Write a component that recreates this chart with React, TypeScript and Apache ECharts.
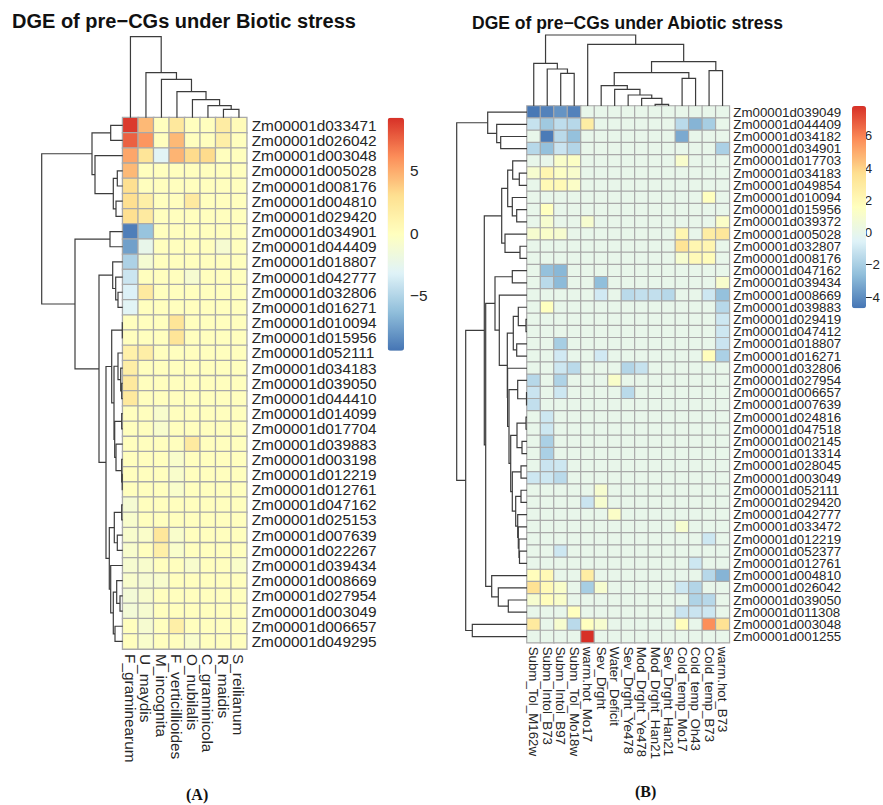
import React, { useEffect, useRef } from "react";
import * as echarts from "echarts";

const PALETTE = ["#4575B4", "#91BFDB", "#E0F3F8", "#FFFFBF", "#FEE090", "#FC8D59", "#D73027"];

// Panel A
const rowsA = ["Zm00001d033471","Zm00001d026042","Zm00001d003048","Zm00001d005028","Zm00001d008176","Zm00001d004810","Zm00001d029420","Zm00001d034901","Zm00001d044409","Zm00001d018807","Zm00001d042777","Zm00001d032806","Zm00001d016271","Zm00001d010094","Zm00001d015956","Zm00001d052111","Zm00001d034183","Zm00001d039050","Zm00001d044410","Zm00001d014099","Zm00001d017704","Zm00001d039883","Zm00001d003198","Zm00001d012219","Zm00001d012761","Zm00001d047162","Zm00001d025153","Zm00001d007639","Zm00001d022267","Zm00001d039434","Zm00001d008669","Zm00001d027954","Zm00001d003049","Zm00001d006657","Zm00001d049295"];
const colsA = ["F_graminearum","U_maydis","M_incognita","F_verticillioides","O_nubilalis","C_graminicola","R_maidis","S_reilianum"];
const valuesA = [
  [8.9,4.5,0,2.2,0,0,1.8,0.3],
  [7.6,5.8,0,4.5,0,0,1.5,0],
  [5.2,2.5,-3,4.7,3.2,3.2,0,0],
  [4.5,0,0,0,0,0,0,0],
  [3,0,0,0,0,0,0,0],
  [3,1.5,0,0,2,0,0,0],
  [3,2,0,0,0,0,0,0],
  [-9,-6,0,0,0,0,0,0],
  [-7.6,-2.4,0,0,0,0,-1,0],
  [-5.2,-1.1,0,0,0,0,0,0],
  [-4,0,0,0,-1,0,0,0],
  [-3.3,2,0,0,0,0,0,0],
  [-3,0,0,0,0,0,0,0],
  [0,0,0,2.5,0,0,0,0],
  [0,0,0,2.5,0,0,0,0],
  [1.3,1.6,0,0,0,0,0,0],
  [1.6,0,0,0,0,0,0,0],
  [2.1,0,0,0,0,0,0,0],
  [2.1,0,0,0,0,0,0,0],
  [0,0,-0.8,0,0,0,0,0],
  [0,0,-0.8,0,0,0,0,0],
  [0,0,0,0,2,0,0,0],
  [0,0,0,-0.7,0,0,0,0],
  [0,0,0,-0.7,0,0,0,0],
  [0,0,0,-0.7,0,0,0,0],
  [-1.1,0,0,0,0,0,0,0],
  [-0.8,0,0,0,0,0,0,0],
  [-0.8,-0.6,2.3,-0.7,0,0,0,0],
  [-0.8,0,1.5,-0.7,0,0,0,0],
  [-1,-0.8,0,0,-0.8,0,0,-0.6],
  [-0.8,-1,-0.8,0,0,0,0,0],
  [-1.3,-0.8,0,0,0,0,0,0],
  [-1.3,-1,0,0,0,0,0,0],
  [0,-1,0,1.5,0,0,0,0],
  [0,-0.7,0,0,-0.7,0,0,0],
];
const rangeA = [-9.39, 9.25];
const ticksA = [-5, 0, 5];

type Tree = number | [number, Tree, Tree];
const rowTreeA: Tree = [81,
  [30.7, [12, 0, 1], [27.7, 2, [9.4, [5.4, 3, 4], [6.7, 5, 6]]]],
  [47.7, [12.7, 7, 8],
    [23.7, [10, 9, [7, 10, [4.7, 11, 12]]],
      [16.7,
        [11, [0.4, 13, 14],
          [8.7, [4.7, 15, [2, 16, [1, 17, 18]]],
            [8, [1, 19, 20], [6.7, 21, [1, 22, [0.5, 23, 24]]]]]],
        [13.4, [8.4, [1, 25, 26], [5.4, 27, 28]],
          [12, 29, [9.4, [6, 30, [2.7, 31, 32]], [7.7, 33, 34]]]]]]]];
const colTreeA: Tree = [81, 0, [45, 1, [38.4, 2, [26, 3, [18, 4, [12, 5, [8.4, 6, 7]]]]]]];

// Panel B
const rowsB = ["Zm00001d039049","Zm00001d044409","Zm00001d034182","Zm00001d034901","Zm00001d017703","Zm00001d034183","Zm00001d049854","Zm00001d010094","Zm00001d015956","Zm00001d039372","Zm00001d005028","Zm00001d032807","Zm00001d008176","Zm00001d047162","Zm00001d039434","Zm00001d008669","Zm00001d039883","Zm00001d029419","Zm00001d047412","Zm00001d018807","Zm00001d016271","Zm00001d032806","Zm00001d027954","Zm00001d006657","Zm00001d007639","Zm00001d024816","Zm00001d047518","Zm00001d002145","Zm00001d013314","Zm00001d028045","Zm00001d003049","Zm00001d052111","Zm00001d029420","Zm00001d042777","Zm00001d033472","Zm00001d012219","Zm00001d052377","Zm00001d012761","Zm00001d004810","Zm00001d026042","Zm00001d039050","Zm00001d011308","Zm00001d003048","Zm00001d001255"];
const colsB = ["Subm_Tol_M162w","Subm_Intol_B73","Subm_Intol_B97","Subm_Tol_Mo18w","warm.hot_Mo17","Sev_Drght","Water_Deficit","Sev_Drght_Ye478","Mod_Drght_Ye478","Mod_Drght_Han21","Sev_Drght_Han21","Cold_temp_Mo17","Cold_temp_Oh43","Cold_temp_B73","warm.hot_B73"];
const valuesB = [
  [-4.6,-4.3,-3.8,-4.3,0,0,0,0,0,0,0,0,0,0,0],
  [-1.2,-2.2,-1.4,-1.6,2.8,0,0,0,0,0,0,-1.5,-2.9,-2,0],
  [0,-4.5,-1.5,-2.5,0,0,0,0,0,0,0,-3.2,0,0,0],
  [-1.6,-2.5,-1.1,-1.7,0,0,0,0,0,0,0,0,0,0,-1.9],
  [0,0,1.2,1.4,0,0,0,0,0,0,0,1.1,0,0,0],
  [1,2.2,1.4,1.1,0,0,0,0,0,0,0,0,0,0,0],
  [0,2,2,1.3,0,0,0,0,0,0,0,0,0,0,0],
  [0,0,0,0,0,0,0,0,0,0,0,0,0,1.6,0],
  [0,1.6,0,0,0,0,0,0,0,0,0,0,0,0,0],
  [0,1,0,0,1,0,0,0,0,0,0,0,0,0,1.3],
  [1,1.2,1,0,0,0,0,0,0,0,0,2.2,0,2.8,3.2],
  [0,0,0,0,0,0,0,0,0,0,0,3.4,2.2,2.2,0],
  [0,0,0,0,0,0,0,0,0,0,0,1,1.9,1.8,0],
  [0,-2.5,-2.8,0,0,0,0,0,0,0,0,0,0,0,0],
  [0,-1.5,-2.7,0,0,-2.6,0,0,0,0,0,0,0,0,1.1],
  [0,0,0,0,0,-0.9,0,-1.5,-1.3,-1.3,-1.6,0,0,-1,-2.5],
  [0,1.6,0,0,0,0,0,0,0,0,0,0,0,0,-1.6],
  [0,0,0,0,0,0,0,0,0,0,0,0,0,0,-1],
  [0,0,0,0,0,0,0,0,0,0,0,0,0,0,-1],
  [0,0,-2,0,0,0,0,0,0,0,0,0,0,0,-1.1],
  [0,0,-0.9,0,0,-0.9,0,0,0,0,0,0,0,1.7,-1.9],
  [0,0,-1,-1.5,0,0,0,-1.7,-1.2,0,0,0,0,0,0],
  [-1.6,0,-1.8,0,0,0,1.2,0,0,0,0,0,0,0,0],
  [-1.1,0,-1,0,0,0,0,-1.5,0,0,0,0,0,0,0],
  [-1.3,0,0,0,0,0,0,0,0,0,0,0,0,0,0],
  [0,-1,0,0,0,0,0,0,0,0,0,0,0,0,0],
  [0,-1,0,0,0,0,0,0,0,0,0,0,0,0,0],
  [0,-1.9,0,0,0,0,0,0,0,0,0,0,0,0,0],
  [0,-1.9,0,0,0,0,0,0,0,0,0,0,0,0,0],
  [0,-1.1,-1,0,0,0,0,0,0,0,0,0,0,0,0],
  [-1,-1,-1.5,0,0,0,0,0,0,0,0,0,0,0,0],
  [0,0,0,0,0,1,0,0,0,0,0,0,0,0,0],
  [0,0,0,0,-1.1,1,0,0,0,0,0,0,0,0,0],
  [0,0,0,0,0,0,1.3,0,0,0,0,0,0,0,0],
  [0,0,0,0,0,0,0,0,0,0,0,1,0,0,0],
  [0,0,0,0,0,0,0,0,0,0,0,0,0,-1,0],
  [0,0,-1,0,0,0,0,0,0,0,0,0,0,0,0],
  [0,0,0,0,0,0,0,0,0,0,0,0,-1,0,0],
  [1.7,2,0,0,2.8,0,0,0,0,0,0,0,0,-1.6,-2.9],
  [3.5,2,1.2,0,-2,1,0,0,0,0,0,-1,-1.7,0,0],
  [1,1.7,1.2,0,0,0,0,0,0,0,0,0,-1.8,-1.6,0],
  [0,0,0,1.6,0,0,0,0,0,0,0,-1.1,-1.1,-1,0],
  [3,0,1,-1.5,1.6,1,0,0,0,0,0,1.7,0,5.7,3.5],
  [0,0,0,0,7.84,0,0,0,0,0,0,0,0,0,0],
];
const rangeB = [-4.68, 7.84];
const ticksB = [-4, -2, 0, 2, 4, 6];

const rowTreeB: Tree = [70.3,
  [39.3, 0, [30.3, 1, [26.3, 2, 3]]],
  [61.3,
    [42.7,
      [25.3,
        [19.3, [14.3, 4, [7.7, 5, 6]], [14.7, 7, [10.3, 8, 9]]],
        [22, 10, [7, 11, 12]]],
      [41.3,
        [32, [14.7, 13, 14],
          [27.7, 15,
            [19.7,
              [13.7, [8.7, 16, [1, 17, 18]], [10.3, 19, 20]],
              [19.4, 21,
                [18,
                  [9.3, 22, [0.5, 23, 24]],
                  [16.3,
                    [10, [1, 25, 26], [5, 27, 28]],
                    [14.7, [6, 29, 30],
                      [11.3, [6, 31, 32],
                        [9.3, 33, [8.7, 34, [8, 35, [7.5, 36, 37]]]]]]]]]]]],
        [35.3, 38, [28.7, 39, [18.7, 40, 41]]]]],
    [54.7, 42, 43]]];
const colTreeB: Tree = [71,
  [42.7, 0, [37, 1, [32.7, 2, 3]]],
  [61.7, 4,
    [44.3,
      [33.3,
        [20.3, 5, [16.7, 6, [11, 7, [7.7, 8, [1.7, 9, 10]]]]],
        [27.7, 11, 12]],
      [35.3, 13, 14]]]];

function merges(tree: Tree) {
  const out: number[][] = [];
  const walk = (t: Tree): [number, number] => {
    if (typeof t === "number") return [t + 0.5, 0];
    const [h, l, r] = t;
    const a = walk(l);
    const b = walk(r);
    out.push([a[0], a[1], b[0], b[1], h]);
    return [(a[0] + b[0]) / 2, h];
  };
  walk(tree);
  return out;
}

const heat = (vals: number[][]) => {
  const out: number[][] = [];
  vals.forEach((row, y) => row.forEach((v, x) => out.push([x, y, v])));
  return out;
};

const LINE = "#3c3c3c";
const TEXT = "#262626";

function dendro(tree: Tree, horizontal: boolean, axis: number) {
  return {
    type: "custom",
    xAxisIndex: axis,
    yAxisIndex: axis,
    silent: true,
    clip: false,
    encode: { x: horizontal ? 1 : 0, y: horizontal ? 0 : 1 },
    data: merges(tree),
    renderItem: (_p: any, api: any) => {
      const a = api.value(0), ha = api.value(1), b = api.value(2), hb = api.value(3), h = api.value(4);
      const pts = (horizontal
        ? [[ha, a], [h, a], [h, b], [hb, b]]
        : [[a, ha], [a, h], [b, h], [b, hb]]).map((p) => api.coord(p));
      return { type: "polyline", shape: { points: pts }, style: { stroke: LINE, fill: "none", lineWidth: 1.2 } };
    },
  };
}

const none = { show: false };

function panel(o: any, start: number) {
  const grids: any[] = [
    { left: o.l, top: o.t, width: o.w, height: o.h },
    { left: o.l, top: o.colTop, width: o.w, height: o.t - o.colTop },
    { left: o.rowLeft, top: o.t, width: o.l - o.rowLeft, height: o.h },
    { left: o.barL, top: o.barT, width: o.barW, height: o.barH },
  ];
  const font = { fontFamily: "Liberation Sans", color: TEXT, fontSize: o.fs };
  const xAxes: any[] = [
    { gridIndex: start, type: "category", data: o.cols, position: "bottom", axisLine: none, axisTick: none, splitLine: none,
      axisLabel: { ...font, fontSize: o.cfs, rotate: -90, interval: 0, margin: o.cm } },
    { gridIndex: start + 1, type: "value", min: 0, max: o.cols.length, show: false },
    { gridIndex: start + 2, type: "value", min: 0, max: o.l - o.rowLeft, inverse: true, show: false },
    { gridIndex: start + 3, type: "value", min: 0, max: 1, show: false },
  ];
  const yAxes: any[] = [
    { gridIndex: start, type: "category", data: o.rows, inverse: true, position: "right", axisLine: none, axisTick: none, splitLine: none,
      axisLabel: { ...font, interval: 0, margin: o.rm } },
    { gridIndex: start + 1, type: "value", min: 0, max: o.t - o.colTop, show: false },
    { gridIndex: start + 2, type: "value", min: 0, max: o.rows.length, inverse: true, show: false },
    { gridIndex: start + 3, type: "value", min: o.range[0], max: o.range[1], position: "right", axisLine: none, axisTick: none, splitLine: none,
      axisLabel: { ...font, fontSize: o.bfs, margin: o.bm, customValues: o.ticks, formatter: (v: number) => String(v).replace("-", "\u2212") } },
  ];
  const series: any[] = [
    { type: "heatmap", xAxisIndex: start, yAxisIndex: start, data: heat(o.vals), silent: true,
      itemStyle: { borderColor: "#a9a9a9", borderWidth: o.bw } },
    dendro(o.colTree, false, start + 1),
    dendro(o.rowTree, true, start + 2),
    { type: "scatter", xAxisIndex: start + 3, yAxisIndex: start + 3, data: [], silent: true },
  ];
  return { grids, xAxes, yAxes, series };
}

export default function App() {
  const ref = useRef<HTMLDivElement>(null);
  useEffect(() => {
    document.body.style.margin = "0";
    const chart = echarts.init(ref.current!, undefined, { renderer: "svg" });
    const a = panel({ l: 122.7, t: 117.7, w: 124, h: 531.3, colTop: 30, rowLeft: 0, rows: rowsA, cols: colsA, vals: valuesA,
      rowTree: rowTreeA, colTree: colTreeA, range: rangeA, ticks: ticksA,
      barL: 387.7, barT: 117.7, barW: 16.3, barH: 233, fs: 15.4, cfs: 15.4, bfs: 15.4, rm: 5, cm: 5, bm: 6, bw: 1.3 }, 0);
    const b = panel({ l: 527, t: 106, w: 202.3, h: 536.7, colTop: 20, rowLeft: 450, rows: rowsB, cols: colsB, vals: valuesB,
      rowTree: rowTreeB, colTree: colTreeB, range: rangeB, ticks: ticksB,
      barL: 852, barT: 106, barW: 14, barH: 202.3, fs: 13.3, cfs: 13.3, bfs: 13.3, rm: 4, cm: 4, bm: 6, bw: 1.2 }, 4);
    const vm = (idx: number, range: number[], left: number, top: number, w: number, h: number) => ({
      type: "continuous", seriesIndex: idx, dimension: 2, min: range[0], max: range[1], calculable: false, hoverLink: false,
      left, top, itemWidth: w, itemHeight: h, padding: 0, orient: "vertical", inRange: { color: PALETTE }, text: ["", ""],
    });
    chart.setOption({
      animation: false,
      backgroundColor: "#fff",
      title: [
        { text: "DGE of pre\u2212CGs under Biotic stress", left: 12, top: 11, textStyle: { fontFamily: "Liberation Sans", fontWeight: "bold", fontSize: 20, color: "#111" }, padding: 0 },
        { text: "DGE of pre\u2212CGs under Abiotic stress", left: 472, top: 14, textStyle: { fontFamily: "Liberation Sans", fontWeight: "bold", fontSize: 17.5, color: "#111" }, padding: 0 },
        { text: "(A)", left: 186, top: 786, textStyle: { fontFamily: "Liberation Serif", fontWeight: "bold", fontSize: 16, color: "#111" }, padding: 0 },
        { text: "(B)", left: 635, top: 783, textStyle: { fontFamily: "Liberation Serif", fontWeight: "bold", fontSize: 16, color: "#111" }, padding: 0 },
      ],
      grid: [...a.grids, ...b.grids],
      xAxis: [...a.xAxes, ...b.xAxes],
      yAxis: [...a.yAxes, ...b.yAxes],
      visualMap: [vm(0, rangeA, 387.7, 117.7, 16.3, 233), vm(4, rangeB, 852, 106, 14, 202.3)],
      series: [...a.series, ...b.series],
    });
    return () => chart.dispose();
  }, []);
  return <div ref={ref} style={{ position: "absolute", left: 0, top: 0, width: 883, height: 805 }} />;
}
